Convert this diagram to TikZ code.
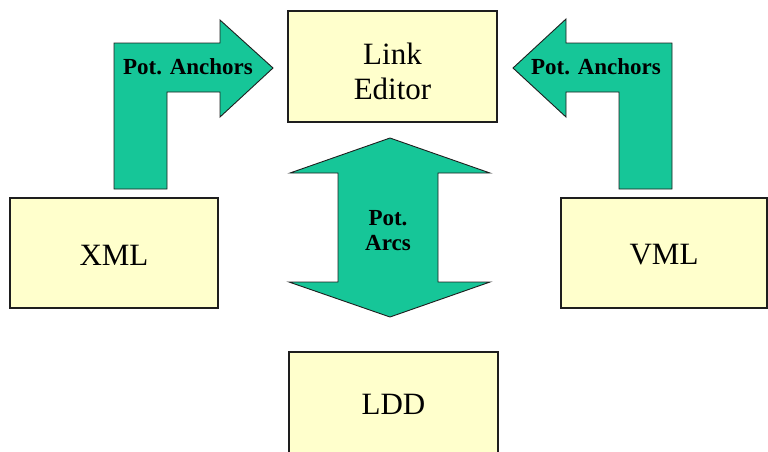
\documentclass[tikz,border=0pt]{standalone}
\usepackage{fontspec}
\setmainfont{Liberation Serif}
\definecolor{boxfill}{RGB}{255,255,204}
\definecolor{arrowfill}{RGB}{22,198,152}
\definecolor{edge}{RGB}{30,30,30}
\begin{document}
\begin{tikzpicture}[x=1pt,y=-1pt,
  block/.style={draw=edge, line width=1.3pt, fill=boxfill, inner sep=0pt,
    minimum width=208pt, minimum height=110pt},
  blocktext/.style={align=center, inner sep=0pt, font=\fontsize{31}{35}\selectfont},
  bigarrow/.style={draw=edge, line width=0.9pt, fill=arrowfill, line join=miter},
  arrowlabel/.style={font=\bfseries\fontsize{23}{25}\selectfont, align=center, inner sep=0pt}]
\useasboundingbox (0,0) rectangle (768,451);
\clip (0,0) rectangle (768,451);

% the four boxes and their captions
\node[block, minimum width=209pt, minimum height=111pt] (editor) at (392.5,66.5) {};
\node[blocktext] (editortext) at ([yshift=-5pt]editor.center) {Link\\Editor};
\node[block] (xml) at (114,253) {};
\node[blocktext] (xmltext) at ([yshift=-2pt]xml.center) {XML};
\node[block, minimum width=206pt] (vml) at (664,253) {};
\node[blocktext] (vmltext) at ([yshift=-2pt]vml.center) {VML};
\node[block, minimum width=209pt] (ldd) at (393.5,407) {};
\node[blocktext] (lddtext) at ([yshift=3pt]ldd.center) {LDD};

% bent arrow from XML up and right to the editor
\draw[bigarrow] (114,189) -- (114,43) -- (220,43) -- (220,20) -- (273,68)
  -- (220,117) -- (220,92) -- (167,92) -- (167,189) -- cycle;
\node[arrowlabel] (leftlbl) at (188,67) {Pot. Anchors};

% bent arrow from VML up and left to the editor
\draw[bigarrow] (672,189) -- (672,43) -- (566,43) -- (566,19) -- (513,68)
  -- (566,117) -- (566,92) -- (619,92) -- (619,189) -- cycle;
\node[arrowlabel] (rightlbl) at (596,67) {Pot. Anchors};

% double-headed arrow between the editor and LDD
\draw[bigarrow] (390,138) -- (490,173) -- (438,173) -- (438,282) -- (490,282)
  -- (390,317) -- (289,282) -- (338,282) -- (338,173) -- (290,173) -- cycle;
\node[arrowlabel] (arcslbl) at (388,231) {Pot.\\Arcs};
\end{tikzpicture}
\end{document}
